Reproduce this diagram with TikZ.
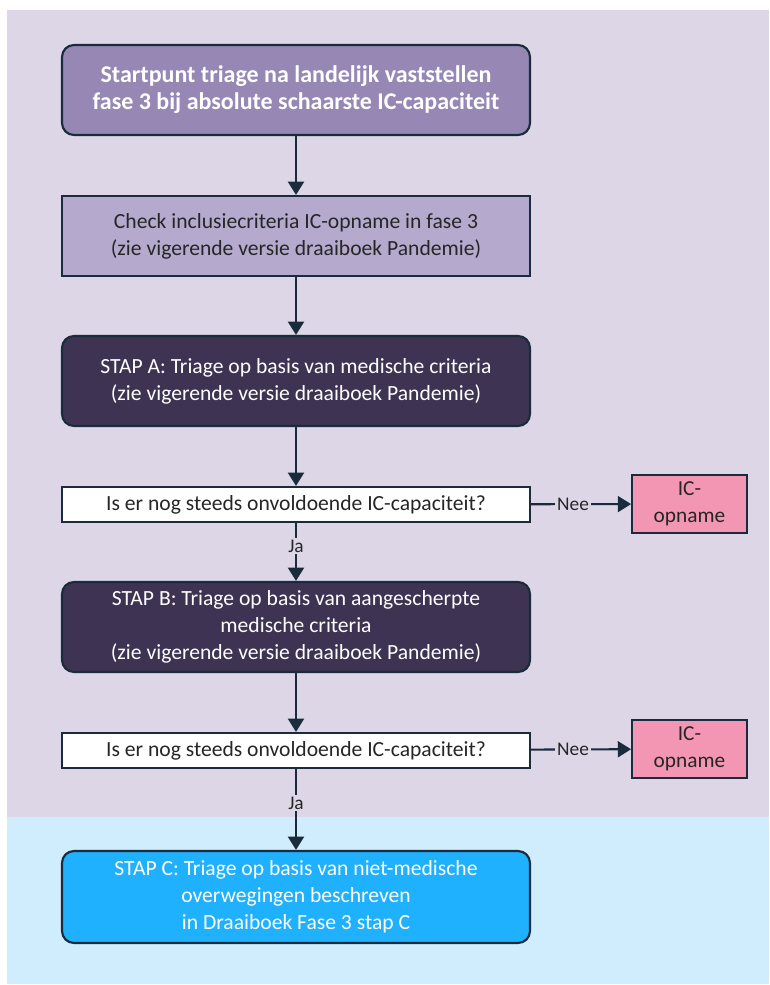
\documentclass[tikz,border=0pt]{standalone}
\usepackage{fontspec}
\setmainfont{Carlito}
\usetikzlibrary{arrows.meta}
\definecolor{bgpurple}{HTML}{DCD6E7}
\definecolor{bgblue}{HTML}{D0EDFD}
\definecolor{edge}{HTML}{1A2C3C}
\definecolor{startfill}{HTML}{9687B4}
\definecolor{checkfill}{HTML}{B5A9CE}
\definecolor{stapfill}{HTML}{3E3352}
\definecolor{pinkfill}{HTML}{F296B3}
\definecolor{cfill}{HTML}{1FB0FE}
\begin{document}
\begin{tikzpicture}[x=0.75pt,y=-0.75pt,
  box/.style={draw=edge,line width=1.6pt,align=center,inner sep=0pt,
    minimum width=351pt,font=\fontsize{16.2pt}{20.25pt}\selectfont},
  roundbox/.style={box,rounded corners=9pt},
  icbox/.style={box,fill=pinkfill,text=black!85,minimum width=86pt,
    font=\fontsize{16pt}{20.25pt}\selectfont},
  conn/.style={draw=edge,line width=1.6pt,-{Triangle[width=12pt,length=10pt]}},
  lab/.style={font=\fontsize{14.5pt}{16pt}\selectfont,inner sep=1.5pt,text=black!85}]
\useasboundingbox (0,0) rectangle (769,985);
\fill[white] (0,0) rectangle (769,985);
\fill[bgpurple] (7,10) rectangle (769,817);
\fill[bgblue] (7,817) rectangle (769,984);

\node[roundbox,fill=startfill,text=white,minimum height=67.5pt,font=\fontsize{18pt}{20.25pt}\selectfont\bfseries] (start) at (296,90)
  {Startpunt triage na landelijk vaststellen\\fase 3 bij absolute schaarste IC-capaciteit};
\node[box,fill=checkfill,text=black!85,minimum height=60pt] (check) at (296,236)
  {Check inclusiecriteria IC-opname in fase 3\\(zie vigerende versie draaiboek Pandemie)};
\node[roundbox,fill=stapfill,text=white,minimum height=67.5pt] (stapA) at (296,381)
  {STAP A: Triage op basis van medische criteria\\(zie vigerende versie draaiboek Pandemie)};
\node[box,fill=white,text=black!85,minimum height=26.25pt] (q1) at (296,504.5)
  {Is er nog steeds onvoldoende IC-capaciteit?};
\node[icbox,minimum height=43.5pt] (ic1) at (689.5,504)
  {IC-\\opname};
\node[roundbox,fill=stapfill,text=white,minimum height=67.5pt] (stapB) at (296,627)
  {STAP B: Triage op basis van aangescherpte\\medische criteria\\(zie vigerende versie draaiboek Pandemie)};
\node[box,fill=white,text=black!85,minimum height=26.25pt] (q2) at (296,750.5)
  {Is er nog steeds onvoldoende IC-capaciteit?};
\node[icbox,minimum height=43.5pt] (ic2) at (689.5,749)
  {IC-\\opname};
\node[roundbox,fill=cfill,text=white,minimum height=69pt] (stapC) at (296,897)
  {STAP C: Triage op basis van niet-medische\\overwegingen beschreven\\in Draaiboek Fase 3 stap C};

\draw[conn] (start) -- (check);
\draw[conn] (check) -- (stapA);
\draw[conn] (stapA) -- (q1);
\draw[conn] (q1) -- node[lab,fill=bgpurple,pos=0.4]{Ja} (stapB);
\draw[conn] (q1) -- node[lab,fill=bgpurple,pos=0.42]{Nee} (ic1);
\draw[conn] (stapB) -- (q2);
\draw[conn] (q2) -- node[lab,fill=bgpurple,pos=0.42]{Ja} (stapC);
\draw[conn] (q2) -- node[lab,fill=bgpurple,pos=0.42]{Nee} (ic2);
\end{tikzpicture}
\end{document}
